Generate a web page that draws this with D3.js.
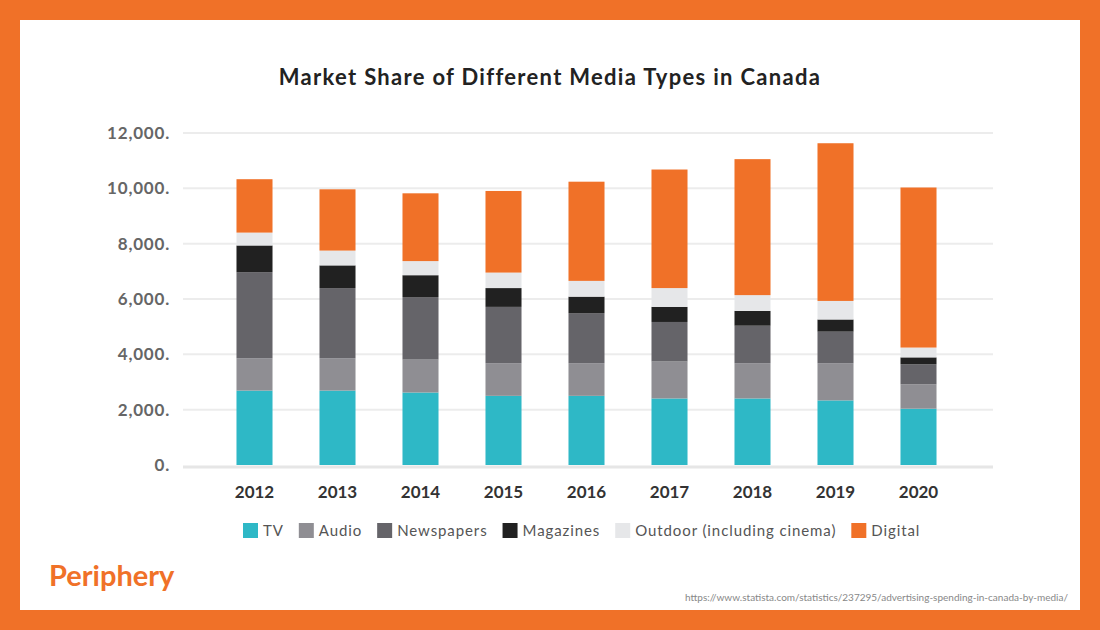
<!DOCTYPE html>
<html><head><meta charset="utf-8">
<script src="https://cdn.jsdelivr.net/npm/d3@7"></script>
<style>body{margin:0;background:#f07128;font-family:Lato,"Open Sans",sans-serif;}</style>
</head><body><svg id="c" width="1100" height="630"></svg>
<script>
const years = ["2012","2013","2014","2015","2016","2017","2018","2019","2020"];
const seriesNames = ["TV","Audio","Newspapers","Magazines","Outdoor (including cinema)","Digital"];
const tv = [2690,2690,2620,2500,2500,2405,2405,2335,2035];
const audio = [1170,1170,1190,1180,1180,1335,1275,1345,880];
const newspapers = [3110,2535,2260,2035,1810,1430,1355,1140,725];
const magazines = [965,820,790,680,595,545,535,440,250];
const outdoor = [465,535,510,560,570,680,570,670,355];
const digital = [1930,2215,2450,2950,3585,4285,4915,5700,5785];
const yTicks = [0,2000,4000,6000,8000,10000,12000];
const colors = ["#2eb8c6","#8f8e93","#656469","#212121","#e6e7e9","#f07128"];

const svg = d3.select("#c");
svg.append("rect").attr("x",0).attr("y",0).attr("width",1100).attr("height",630).attr("fill","#f07128");
svg.append("rect").attr("x",20).attr("y",20).attr("width",1060).attr("height",590).attr("fill","#fff");

const vals = [tv,audio,newspapers,magazines,outdoor,digital];
const rows = years.map((y,i)=>{const o={year:y};seriesNames.forEach((s,k)=>o[s]=vals[k][i]);return o;});
const stack = d3.stack().keys(seriesNames)(rows);

const x = d3.scaleBand().domain(years).range([213,960]).paddingInner(0.566).paddingOuter(0.283);
const y = d3.scaleLinear().domain([0,12000]).range([465,133]);

svg.append("g").selectAll("line").data(yTicks.slice(1)).join("line")
 .attr("x1",183).attr("x2",993).attr("y1",d=>y(d)).attr("y2",d=>y(d))
 .attr("stroke","#ececec").attr("stroke-width",2);
svg.append("line").attr("x1",183).attr("x2",993).attr("y1",467).attr("y2",467).attr("stroke","#e6e6e6").attr("stroke-width",3);

svg.append("g").selectAll("text").data(yTicks).join("text")
 .attr("x",170).attr("y",d=>y(d)+6).attr("text-anchor","end")
 .attr("font-size",17).attr("font-weight","bold").attr("fill","#666").attr("letter-spacing","0.8")
 .text(d=>d3.format(",")(d)+".");

svg.append("g").selectAll("g").data(stack).join("g").attr("fill",(d,i)=>colors[i])
 .selectAll("rect").data(d=>d).join("rect")
 .attr("x",d=>x(d.data.year)).attr("width",x.bandwidth())
 .attr("y",d=>y(d[1])).attr("height",d=>y(d[0])-y(d[1]));

svg.append("g").selectAll("text").data(years).join("text")
 .attr("x",d=>x(d)+x.bandwidth()/2).attr("y",498).attr("text-anchor","middle")
 .attr("font-size",17).attr("font-weight","bold").attr("fill","#333").text(d=>d);

svg.append("text").attr("x",550).attr("y",85).attr("text-anchor","middle")
 .attr("font-size",22).attr("font-weight","bold").attr("fill","#222").attr("letter-spacing","1.3")
 .text("Market Share of Different Media Types in Canada");

const lg = svg.append("g");
let lx = 243;
seriesNames.forEach((s,i)=>{
  lg.append("rect").attr("x",lx).attr("y",523).attr("width",15).attr("height",15).attr("fill",colors[i]);
  const t = lg.append("text").attr("x",lx+20).attr("y",536).attr("font-size",15).attr("fill","#555").attr("letter-spacing","0.9").text(s);
  lx += 20 + t.node().getComputedTextLength() + 15;
});

svg.append("text").attr("x",49).attr("y",586).attr("font-size",29).attr("font-weight","bold").attr("fill","#f07128").text("Periphery");
svg.append("text").attr("x",1068).attr("y",601).attr("text-anchor","end").attr("font-size",10).attr("fill","#888")
 .text("https://www.statista.com/statistics/237295/advertising-spending-in-canada-by-media/");
</script></body></html>
